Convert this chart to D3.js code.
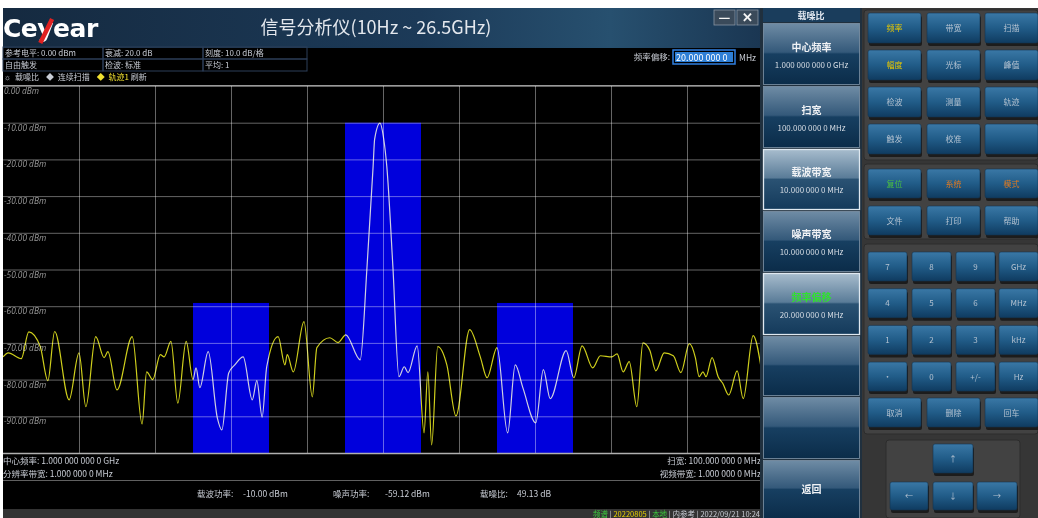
<!DOCTYPE html>
<html>
<head>
<meta charset="utf-8">
<script src="https://cdn.jsdelivr.net/npm/d3@7"></script>
<style>
  body { margin: 0; background: #fff; }
  svg { display: block; font-family: "Noto Sans CJK SC", "Noto Sans", sans-serif; }
</style>
</head>
<body>
<svg id="screen" width="1038" height="518"></svg>
<script>
// amplitude axis (dBm)
const yTicks = [0, -10, -20, -30, -40, -50, -60, -70, -80, -90];
const yDomain = [-100, 0];
// frequency axis (MHz): centre 1 GHz, span 100 MHz
const xDomain = [950, 1050];
const xTicks = [950, 960, 970, 980, 990, 1000, 1010, 1020, 1030, 1040, 1050];

// measurement bands: carrier + two noise bands at +-20 MHz offset
const bandCenter = [980, 1000, 1020];
const bandLevel = [-59.12, -10.0, -59.12];
const bandWidth = 10;

// trace 1
const traceFreq = [950.0, 950.7, 952.4, 953.4, 954.9, 955.9, 956.8, 958.7, 960.0, 960.9,
  962.2, 963.3, 963.8, 965.0, 967.0, 968.3, 968.9, 969.7, 970.7, 971.2,
  972.1, 973.0, 974.1, 975.0, 975.4, 975.9, 977.0, 978.2, 978.8, 979.7,
  980.5, 981.6, 982.8, 983.4, 984.1, 984.7, 986.2, 987.1, 987.4, 988.2,
  989.6, 990.7, 991.3, 993.0, 994.1, 995.1, 997.0, 997.9, 998.7, 998.9,
  999.6, 1000.1, 1000.5, 1001.3, 1002.1, 1002.8, 1003.3, 1004.5, 1005.4, 1005.9,
  1006.4, 1007.2, 1008.4, 1009.6, 1011.4, 1012.8, 1013.7, 1015.0, 1016.4, 1017.4,
  1018.4, 1020.1, 1021.1, 1022.0, 1024.1, 1025.1, 1026.2, 1027.6, 1028.6, 1030.1,
  1030.8, 1031.6, 1032.4, 1033.4, 1034.2, 1035.1, 1035.9, 1037.0, 1038.2, 1039.2,
  1040.3, 1041.1, 1041.6, 1042.1, 1042.5, 1043.3, 1044.1, 1044.7, 1045.5, 1046.6,
  1047.4, 1048.7, 1049.9];
const traceLevel = [-73.8, -72.7, -74.3, -67.0, -71.0, -80.3, -66.9, -85.5, -72.7, -87.4,
  -68.3, -74.0, -72.4, -82.8, -68.3, -92.1, -77.9, -80.0, -73.2, -73.8,
  -69.6, -86.4, -69.6, -80.0, -76.8, -82.2, -72.4, -90.4, -93.7, -78.2,
  -76.0, -73.8, -85.5, -80.3, -90.2, -76.5, -68.3, -76.0, -73.2, -77.9,
  -64.2, -84.7, -71.3, -68.6, -69.9, -67.8, -74.6, -49.2, -21.9, -14.5,
  -10.1, -14.5, -21.9, -49.2, -79.2, -76.5, -78.1, -70.8, -94.5, -77.9,
  -97.8, -71.0, -76.0, -89.9, -66.4, -73.8, -79.5, -71.3, -94.5, -76.0,
  -82.2, -91.8, -77.3, -85.2, -72.1, -79.5, -70.8, -76.8, -73.5, -73.8,
  -73.0, -77.9, -75.1, -87.4, -70.0, -72.0, -77.6, -72.7, -73.5, -78.1,
  -70.2, -74.0, -79.2, -77.9, -79.2, -74.0, -79.2, -81.0, -84.2, -77.6,
  -85.2, -68.0, -78.7];

// texts
const infoRows = [
  ['参考电平: 0.00 dBm', '衰减: 20.0 dB', '刻度: 10.0 dB/格'],
  ['自由触发', '检波: 标准', '平均: 1']
];
const softKeys = [
  { title: '中心频率', value: '1.000 000 000 0 GHz' },
  { title: '扫宽', value: '100.000 000 0 MHz' },
  { title: '载波带宽', value: '10.000 000 0 MHz', active: true },
  { title: '噪声带宽', value: '10.000 000 0 MHz' },
  { title: '频率偏移', value: '20.000 000 0 MHz', active: true, green: true },
  { title: '', value: '' },
  { title: '', value: '' },
  { title: '返回', value: '' }
];
const funcKeys = [['频率', '带宽', '扫描'], ['幅度', '光标', '峰值'], ['检波', '测量', '轨迹'], ['触发', '校准', '']];
const sysKeys = [['复位', '系统', '模式'], ['文件', '打印', '帮助']];
const numKeys = [['7', '8', '9', 'GHz'], ['4', '5', '6', 'MHz'], ['1', '2', '3', 'kHz'], ['·', '0', '+/-', 'Hz']];
const editKeys = ['取消', '删除', '回车'];
const keyColors = { '频率': '#e8c800', '幅度': '#e8c800', '复位': '#4cc040', '系统': '#e07a20', '模式': '#e07a20' };

const svg = d3.select('#screen');
const defs = svg.append('defs');

function gradient(id, stops, x2 = 0, y2 = 1) {
  const g = defs.append('linearGradient').attr('id', id)
    .attr('x1', 0).attr('y1', 0).attr('x2', x2).attr('y2', y2);
  stops.forEach(s => g.append('stop').attr('offset', s[0]).attr('stop-color', s[1]));
}
gradient('titleGrad', [[0, '#152a40'], [0.55, '#1c3a58'], [0.8, '#27506f'], [1, '#1a3652']], 1, 0);
gradient('softGrad', [[0, '#6f8ca5'], [0.47, '#34597a'], [0.5, '#173f61'], [1, '#0b2c49']]);
gradient('softActive', [[0, '#a7bccd'], [0.47, '#5a7c98'], [0.5, '#2a5273'], [1, '#143a5b']]);
gradient('keyGrad', [[0, '#3a78a6'], [0.5, '#215c88'], [1, '#0f3b60']]);

// ---------- title bar ----------
svg.append('rect').attr('x', 3).attr('y', 8).attr('width', 759).attr('height', 40).attr('fill', 'url(#titleGrad)');
const logo = svg.append('text').attr('x', 3).attr('y', 37)
  .attr('font-family', '"DejaVu Sans", sans-serif').attr('font-weight', 'bold').attr('font-size', 25)
  .attr('letter-spacing', -0.5).attr('fill', '#fff').text('Ceyear');
const yStart = logo.node().getStartPositionOfChar(2);
const yEnd = logo.node().getEndPositionOfChar(2);
svg.append('line')
  .attr('x1', yEnd.x - 1).attr('y1', 19).attr('x2', yStart.x + 3).attr('y2', 43)
  .attr('stroke', '#e02020').attr('stroke-width', 4.5);

svg.append('text').attr('x', 376).attr('y', 34).attr('text-anchor', 'middle')
  .attr('font-size', 18).attr('fill', '#e4e8ee').text('信号分析仪(10Hz ~ 26.5GHz)');

[[714, '—'], [737, '✕']].forEach(([x, s]) => {
  svg.append('rect').attr('x', x).attr('y', 10).attr('width', 21).attr('height', 15)
    .attr('fill', '#3a4a5a').attr('stroke', '#8895a2').attr('stroke-width', 0.8);
  svg.append('text').attr('x', x + 10.5).attr('y', 22).attr('text-anchor', 'middle')
    .attr('font-size', 13).attr('font-weight', 'bold').attr('fill', '#f4f4f4').text(s);
});

// ---------- setting info ----------
svg.append('rect').attr('x', 3).attr('y', 48).attr('width', 759).attr('height', 461).attr('fill', '#000');
const colX = [3, 103, 203, 307];
infoRows.forEach((row, r) => {
  row.forEach((t, c) => {
    svg.append('rect').attr('x', colX[c]).attr('y', 47 + r * 12).attr('width', colX[c + 1] - colX[c]).attr('height', 12)
      .attr('fill', 'none').attr('stroke', '#2d3e58').attr('stroke-width', 1);
    svg.append('text').attr('x', colX[c] + 2).attr('y', 56 + r * 12)
      .attr('font-size', 8).attr('fill', '#c8ccd4').text(t);
  });
});
const status = svg.append('text').attr('x', 4).attr('y', 80).attr('font-size', 8).attr('fill', '#c8ccd4')
  .attr('xml:space', 'preserve');
status.append('tspan').text('☼  载噪比    ◆  连续扫描    ');
status.append('tspan').attr('fill', '#f0e030').text('◆  轨迹1 ');
status.append('tspan').text('刷新');

svg.append('text').attr('x', 670).attr('y', 60).attr('text-anchor', 'end')
  .attr('font-size', 8.5).attr('fill', '#c8ccd4').text('频率偏移:');
svg.append('rect').attr('x', 673).attr('y', 50).attr('width', 62).attr('height', 14)
  .attr('fill', '#000').attr('stroke', '#2f7fe0').attr('stroke-width', 1.5);
svg.append('rect').attr('x', 675).attr('y', 52).attr('width', 58).attr('height', 10).attr('fill', '#2e7fd6');
svg.append('text').attr('x', 676).attr('y', 61).attr('font-size', 9).attr('fill', '#fff').text('20.000 000 0');
svg.append('text').attr('x', 739).attr('y', 61).attr('font-size', 8.5).attr('fill', '#c8ccd4').text('MHz');

// ---------- plot ----------
const plot = { left: 3, right: 763, top: 86, bottom: 453 };
const x = d3.scaleLinear().domain(xDomain).range([plot.left, plot.right]);
const y = d3.scaleLinear().domain(yDomain).range([plot.bottom, plot.top]);

svg.append('line').attr('x1', 3).attr('x2', 762).attr('y1', 85.5).attr('y2', 85.5).attr('stroke', '#9a9a9a');

// band markers
svg.append('g').selectAll('rect').data(bandCenter).join('rect')
  .attr('x', d => x(d - bandWidth / 2))
  .attr('width', d => x(d + bandWidth / 2) - x(d - bandWidth / 2))
  .attr('y', (d, i) => y(bandLevel[i]))
  .attr('height', (d, i) => y(yDomain[0]) - y(bandLevel[i]))
  .attr('fill', '#0000dc');

// grid from axes
svg.append('g').attr('transform', `translate(${plot.left},0)`)
  .call(d3.axisLeft(y).tickValues(yTicks.concat([-100])).tickSize(-(plot.right - plot.left)).tickFormat(''))
  .call(g => g.select('.domain').remove())
  .call(g => g.selectAll('line').attr('stroke', '#707070').attr('stroke-width', 0.9).style('mix-blend-mode', 'screen'));
svg.append('g').attr('transform', `translate(0,${plot.bottom})`)
  .call(d3.axisBottom(x).tickValues(xTicks.slice(1, -1)).tickSize(-(plot.bottom - plot.top)).tickFormat(''))
  .call(g => g.select('.domain').remove())
  .call(g => g.selectAll('line').attr('stroke', '#707070').attr('stroke-width', 0.9).style('mix-blend-mode', 'screen'));
svg.append('line').attr('x1', 3).attr('x2', 762).attr('y1', plot.bottom + 0.5).attr('y2', plot.bottom + 0.5)
  .attr('stroke', '#b0b0b0').attr('stroke-width', 1.5);

svg.append('g').selectAll('text').data(yTicks).join('text')
  .attr('x', 4).attr('y', d => y(d) + 8)
  .attr('font-family', '"Open Sans", sans-serif').attr('font-style', 'italic')
  .attr('font-size', 8.3).attr('fill', '#9a9a9a')
  .text(d => `${d.toFixed(2)} dBm`);

// trace
const trace = traceFreq.map((f, i) => [f, traceLevel[i]]);
svg.append('path').datum(trace)
  .attr('d', d3.line().x(d => x(d[0])).y(d => y(d[1])).curve(d3.curveMonotoneX))
  .attr('fill', 'none').attr('stroke', '#cfcf1c').attr('stroke-width', 1.2)
  .style('mix-blend-mode', 'screen');

// ---------- bottom info ----------
const small = { 'font-size': 8.5, fill: '#c8ccd4' };
function label(xp, yp, t, anchor = 'start', attrs = small) {
  const el = svg.append('text').attr('x', xp).attr('y', yp).attr('text-anchor', anchor).text(t);
  Object.entries(attrs).forEach(([k, v]) => el.attr(k, v));
  return el;
}
label(3, 464, '中心频率: 1.000 000 000 0 GHz');
label(3, 477, '分辨率带宽: 1.000 000 0 MHz');
label(761, 464, '扫宽: 100.000 000 0 MHz', 'end');
label(761, 477, '视频带宽: 1.000 000 0 MHz', 'end');
svg.append('line').attr('x1', 3).attr('x2', 762).attr('y1', 480.5).attr('y2', 480.5).attr('stroke', '#606060');
label(197, 497, '载波功率:');
label(243, 497, '-10.00 dBm');
label(333, 497, '噪声功率:');
label(385, 497, '-59.12 dBm');
label(480, 497, '载噪比:');
label(517, 497, '49.13 dB');

svg.append('rect').attr('x', 3).attr('y', 509).attr('width', 759).attr('height', 9).attr('fill', '#333');
const bar = svg.append('text').attr('x', 760).attr('y', 517).attr('text-anchor', 'end')
  .attr('font-size', 7.5).attr('fill', '#c8ccd4');
bar.append('tspan').attr('fill', '#3cc83c').text('频谱');
bar.append('tspan').text(' | ');
bar.append('tspan').attr('fill', '#e8d000').text('20220805');
bar.append('tspan').text(' | ');
bar.append('tspan').attr('fill', '#3cc83c').text('本地');
bar.append('tspan').text(' | 内参考 | 2022/09/21 10:24');

// ---------- soft keys ----------
svg.append('rect').attr('x', 760).attr('y', 8).attr('width', 102).attr('height', 510).attr('fill', '#20303e');
svg.append('rect').attr('x', 763).attr('y', 8).attr('width', 97).attr('height', 14).attr('fill', '#1a3d5c');
label(811, 19, '载噪比', 'middle', { 'font-size': 9, fill: '#e0e6ee', 'font-weight': 'bold' });
const softTop = [23, 86, 149, 211, 273, 336, 397, 460];
softKeys.forEach((k, i) => {
  const h = (i < 7 ? softTop[i + 1] : 520) - softTop[i] - 2;
  svg.append('rect').attr('x', 763.5).attr('y', softTop[i] + 0.5).attr('width', 96).attr('height', h)
    .attr('fill', k.active ? 'url(#softActive)' : 'url(#softGrad)')
    .attr('stroke', k.active ? '#dfe8f0' : '#7f95a8').attr('stroke-width', k.active ? 1.3 : 0.8);
  const cy = softTop[i] + h / 2;
  if (k.value) {
    label(811.5, cy - 3, k.title, 'middle', { 'font-size': 10, 'font-weight': 'bold', fill: k.green ? '#30e030' : '#f0f2f5' });
    label(811.5, cy + 14, k.value, 'middle', { 'font-size': 8, fill: '#d4dbe3' });
  } else if (k.title) {
    label(811.5, cy + 4, k.title, 'middle', { 'font-size': 10, 'font-weight': 'bold', fill: '#f0f2f5' });
  }
});

// ---------- hard keys ----------
svg.append('rect').attr('x', 862).attr('y', 8).attr('width', 176).attr('height', 510).attr('fill', '#363636');
[[864, 10, 174, 150], [864, 164, 174, 75], [864, 244, 174, 190], [886, 440, 134, 78]].forEach(([px, py, pw, ph]) => {
  svg.append('rect').attr('x', px).attr('y', py).attr('width', pw).attr('height', ph).attr('rx', 3)
    .attr('fill', '#424242').attr('stroke', '#2c2c2c');
});
function key(kx, ky, kw, kh, t) {
  svg.append('rect').attr('x', kx + 1).attr('y', ky + 3).attr('width', kw).attr('height', kh).attr('rx', 2).attr('fill', '#1c1c1c');
  svg.append('rect').attr('x', kx).attr('y', ky).attr('width', kw).attr('height', kh).attr('rx', 2)
    .attr('fill', 'url(#keyGrad)').attr('stroke', '#14344f').attr('stroke-width', 0.6);
  if (t) label(kx + kw / 2, ky + kh / 2 + 3, t, 'middle', { 'font-size': 8, fill: keyColors[t] || '#b4c2d0' });
}
const col3 = [868, 927, 985];
funcKeys.forEach((row, r) => row.forEach((t, c) => key(col3[c], 13 + r * 37, 53, 30, t)));
sysKeys.forEach((row, r) => row.forEach((t, c) => key(col3[c], 169 + r * 37, 53, 29, t)));
const col4 = [868, 912, 956, 999];
numKeys.forEach((row, r) => row.forEach((t, c) => key(col4[c], 252 + r * 36.7, 39, 29, t)));
editKeys.forEach((t, c) => key(col3[c], 398, 53, 29, t));
key(933, 444, 40, 29, '↑');
key(890, 482, 38, 28, '←');
key(933, 482, 40, 28, '↓');
key(977, 482, 40, 28, '→');
</script>
</body>
</html>
